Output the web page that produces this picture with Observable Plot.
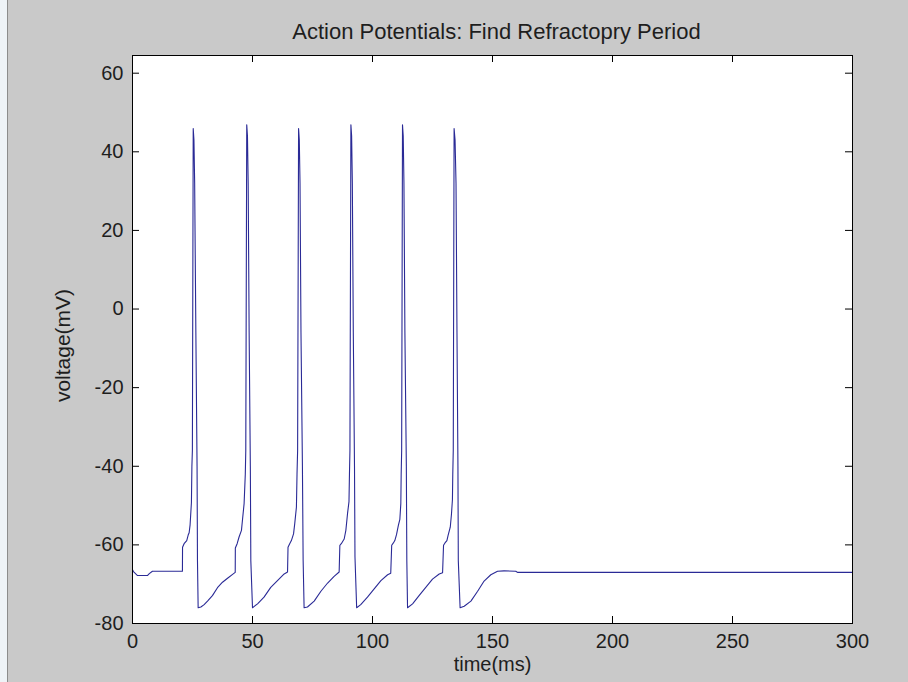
<!DOCTYPE html>
<html><head><meta charset="utf-8">
<script src="https://cdn.jsdelivr.net/npm/d3@7"></script>
<script src="https://cdn.jsdelivr.net/npm/@observablehq/plot@0.6"></script>
<style>
html,body{margin:0;padding:0;background:#c9c9c9;}
#wrap{position:relative;width:908px;height:682px;overflow:hidden}
#strip{position:absolute;left:0;top:0;width:7px;height:682px;background:#eef3f7;border-right:1px solid #8c8c8c}
svg{display:block}
</style></head><body><div id="wrap"><div id="strip"></div></div>
<script>
const titleText = "Action Potentials: Find Refractopry Period";
const xLabel = "time(ms)";
const yLabel = "voltage(mV)";
const xTicks = [0, 50, 100, 150, 200, 250, 300];
const yTicks = [-80, -60, -40, -20, 0, 20, 40, 60];

const time = [
  0, 0.4, 2.1, 6.2, 7.0, 8.3, 20.8, 20.85, 21.5, 22.6, 23.2, 23.6, 24.0, 24.55,
  24.75, 24.95, 25.3, 25.6, 25.9, 26.4, 26.9, 27.07, 27.35,
  28.5, 29.85, 31.25, 33.3, 35.4, 37.5, 39.6, 41.7, 42.8, 42.85, 43.6, 44.4, 45.4, 45.8, 46.5,
  47.0, 47.2, 47.6, 47.9, 48.2, 48.6, 49.1, 49.3, 50.0,
  50.6, 52.1, 54.8, 57.6, 60.4, 63.2, 64.6, 64.8, 65.5, 66.2, 67.1, 67.6, 68.3,
  68.55, 68.8, 69.2, 69.5, 69.8, 70.2, 70.8, 71.1, 71.5,
  72.9, 75.7, 78.5, 81.3, 84.0, 86.1, 86.4, 87.0, 88.2, 88.9, 89.6, 90.2,
  90.4, 90.6, 91.0, 91.3, 91.6, 92.0, 92.5, 92.7, 93.4,
  95.1, 97.9, 100.7, 103.5, 106.3, 107.6, 108.0, 108.7, 109.3, 110.0, 110.8, 111.4, 111.8,
  111.95, 112.15, 112.5, 112.8, 113.1, 113.5, 114.1, 114.3, 114.6,
  116.7, 119.4, 122.2, 125.0, 127.8, 129.2, 129.6, 130.2, 131.0, 131.5, 132.4, 132.9, 133.3,
  133.45, 133.65, 134.0, 134.4, 134.8, 135.2, 135.6, 135.75, 136.5,
  138.2, 141.0, 143.8, 146.5, 149.3, 152.1, 154.8, 159.7, 160.4, 300
];
const voltage = [
  -66.3, -66.8, -67.8, -67.8, -67.3, -66.7, -66.7, -60.6, -59.7, -58.9, -57.5, -56.9, -54.9, -49.2,
  -40, -36, 45.9, 43, 32, -6, -40, -64, -76.0,
  -75.8, -75.2, -74.3, -72.9, -70.9, -69.5, -68.5, -67.5, -67.0, -60.8, -59.7, -58.0, -56.3, -53.8, -49.5,
  -42, -36, 46.9, 44, 32, -6, -40, -64, -76.0,
  -75.7, -75.0, -73.3, -70.8, -69.1, -67.4, -66.9, -60.6, -59.7, -58.9, -57.2, -54.6, -50.4,
  -42, -36, 45.9, 43, 32, -6, -40, -64, -76.0,
  -75.8, -74.3, -71.8, -69.7, -68.0, -66.9, -60.1, -59.7, -58.5, -56.3, -52.0, -49,
  -42, -36, 46.9, 44, 32, -6, -40, -63.1, -76.0,
  -75.2, -73.3, -71.2, -69.1, -67.6, -67.2, -60.1, -59.5, -58.9, -57.4, -55.0, -53.5, -49.5,
  -42, -36, 46.9, 44, 32, -6, -40, -64, -76.0,
  -75.0, -72.9, -70.8, -68.7, -67.4, -67.1, -60.1, -59.5, -58.9, -57.6, -55.5, -52.2, -48.5,
  -42, -36, 45.9, 43, 32, -6, -40, -64, -76.0,
  -75.6, -74.3, -71.8, -69.2, -67.6, -66.7, -66.6, -66.7, -67.0, -67.0
];

const data = time.map((t, i) => ({t, v: voltage[i]}));

const W = 908, H = 682, mL = 132, mR = 56, mT = 55, mB = 59;
const innerW = W - mL - mR, innerH = H - mT - mB, tickLen = 7;

const plot = Plot.plot({
  width: W, height: H,
  marginLeft: mL, marginRight: mR, marginTop: mT, marginBottom: mB,
  style: {background: "transparent", fontFamily: "Liberation Sans, Arial, sans-serif", color: "#1e1e1e", overflow: "visible"},
  x: {domain: [0, 300]},
  y: {domain: [-80, 64.5]},
  marks: [
    Plot.frame({fill: "white"}),
    Plot.line(data, {x: "t", y: "v", stroke: "#2a2a96", strokeWidth: 1.1}),
    Plot.ruleX(xTicks, {x: d => d, insetTop: innerH - tickLen, stroke: "#000"}),
    Plot.ruleX(xTicks, {x: d => d, insetBottom: innerH - tickLen, stroke: "#000"}),
    Plot.ruleY(yTicks, {y: d => d, insetRight: innerW - tickLen, stroke: "#000"}),
    Plot.ruleY(yTicks, {y: d => d, insetLeft: innerW - tickLen, stroke: "#000"}),
    Plot.frame({stroke: "#000"}),
    Plot.axisX({ticks: xTicks, tickSize: 0, tickPadding: 10, fontSize: 20, label: null, tickFormat: d => String(d)}),
    Plot.axisY({ticks: yTicks, tickSize: 0, tickPadding: 9, fontSize: 20, label: null, tickFormat: d => String(d)}),
    Plot.text([xLabel], {text: d => d, frameAnchor: "bottom", textAnchor: "middle", lineAnchor: "middle", dy: 41, fontSize: 20}),
    Plot.text([yLabel], {text: d => d, frameAnchor: "left", textAnchor: "middle", lineAnchor: "middle", dx: -69, dy: 6, rotate: -90, fontSize: 21}),
    Plot.text([titleText], {text: d => d, frameAnchor: "top", textAnchor: "middle", lineAnchor: "middle", dx: 4, dy: -24, fontSize: 22})
  ]
});
document.getElementById("wrap").appendChild(plot);
</script>
</body></html>
